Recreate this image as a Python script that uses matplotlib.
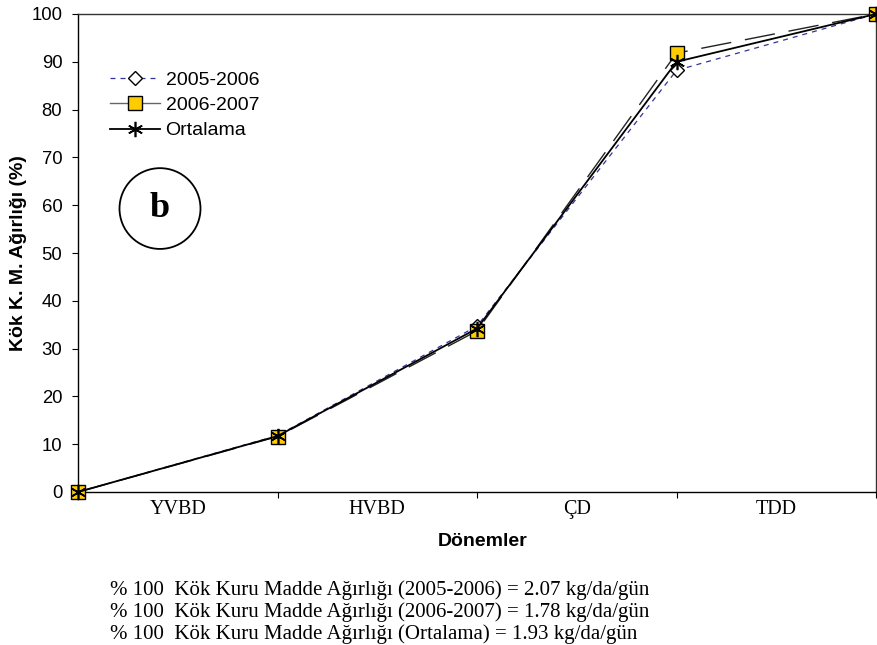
import matplotlib.pyplot as plt
from matplotlib.patches import Ellipse

# data
stages = ['YVBD', 'HVBD', 'ÇD', 'TDD']
x_points = [0, 1, 2, 3, 4]
y_2005 = [0, 11.8, 34.7, 88.2, 100]
y_2006 = [0, 11.6, 33.7, 91.8, 100]
y_mean = [0, 11.7, 34.2, 90.0, 100]
notes = [
    '% 100  Kök Kuru Madde Ağırlığı (2005-2006) = 2.07 kg/da/gün',
    '% 100  Kök Kuru Madde Ağırlığı (2006-2007) = 1.78 kg/da/gün',
    '% 100  Kök Kuru Madde Ağırlığı (Ortalama) = 1.93 kg/da/gün',
]

plt.rcParams['font.family'] = ['Liberation Sans', 'DejaVu Sans']

W, H = 877, 645
fig = plt.figure(figsize=(W / 100, H / 100), dpi=100)
ax = fig.add_axes([78 / W, 1 - 492 / H, 798 / W, 478 / H])

ax.plot(x_points, y_2005, color='#333399', linestyle=(0, (4, 4)), linewidth=0.9,
        marker='D', markersize=7.5, markerfacecolor='white', markeredgecolor='black',
        markeredgewidth=1.0, label='2005-2006', zorder=3, clip_on=False)
ax.plot(x_points, y_2006, color='#222222', linestyle=(0, (22, 10)), linewidth=1.0,
        marker='s', markersize=10, markerfacecolor='#FFCC00', markeredgecolor='black',
        markeredgewidth=1.0, label='2006-2007', zorder=4, clip_on=False)
ax.plot(x_points, y_mean, color='black', linestyle='-', linewidth=1.3,
        marker=(6, 2, 0), markersize=11, markeredgecolor='black',
        markeredgewidth=1.2, label='Ortalama', zorder=5, clip_on=False)

ax.set_xlim(0, 4)
ax.set_ylim(0, 100)
ax.set_yticks(range(0, 101, 10))
ax.set_xticks(x_points)
ax.set_xticklabels([])
ax.set_xticks([0.5, 1.5, 2.5, 3.5], minor=True)
ax.set_xticklabels(stages, minor=True, fontfamily='Liberation Serif', fontsize=14.5)
ax.tick_params(axis='x', which='minor', length=0, pad=6)
ax.tick_params(axis='x', which='major', length=4.3, direction='out')
ax.tick_params(axis='y', length=4.3, direction='out', labelsize=13.3, pad=7)
for s in ax.spines.values():
    s.set_linewidth(1.0)
for side in ('top', 'right'):
    ax.spines[side].set_color('#333333')

ax.set_xlabel('Dönemler', fontsize=14, fontweight='bold')
ax.set_ylabel('Kök K. M. Ağırlığı (%)', fontsize=14, fontweight='bold')
ax.xaxis.set_label_coords(0.507, -0.086)
ax.yaxis.set_label_coords(-0.064, 0.5)

leg = ax.legend(loc='upper left', bbox_to_anchor=(0.040, 0.88), frameon=False,
                fontsize=14, handlelength=2.6, labelspacing=0.39, handletextpad=0.26,
                borderpad=0, borderaxespad=0)
# legend swatch for 2006-2007 is drawn as a plain grey line
leg.get_lines()[1].set_linestyle('-')
leg.get_lines()[1].set_color('#666666')

# circled letter
ax.add_patch(Ellipse((0.411, 59.3), 0.406, 16.9, transform=ax.transData, fill=False,
                     edgecolor='black', linewidth=1.3, clip_on=False))
ax.text(0.411, 59.3, 'b', ha='center', va='center', fontsize=26, fontweight='bold',
        fontfamily='Liberation Serif')

for i, line in enumerate(notes):
    fig.text(110 / W, 1 - (595 + 22 * i) / H, line, ha='left', va='baseline',
             fontsize=15, fontfamily='Liberation Serif')

fig.savefig('out.png', dpi=100)
